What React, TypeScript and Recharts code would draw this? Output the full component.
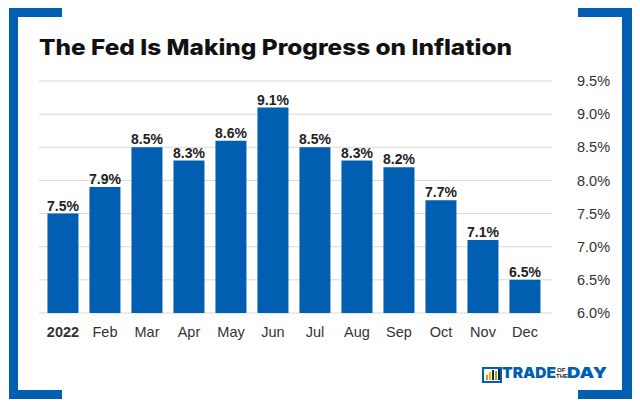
import React from "react";
import { BarChart, Bar, XAxis, YAxis, CartesianGrid, LabelList } from "recharts";

const months = ["2022", "Feb", "Mar", "Apr", "May", "Jun", "Jul", "Aug", "Sep", "Oct", "Nov", "Dec"];
const inflation = [7.5, 7.9, 8.5, 8.3, 8.6, 9.1, 8.5, 8.3, 8.2, 7.7, 7.1, 6.5];
const yTicks = [6.0, 6.5, 7.0, 7.5, 8.0, 8.5, 9.0, 9.5];

const BLUE = "#005fb0";
const FONT = "'Liberation Sans', Arial, Helvetica, sans-serif";

const data = months.map((m, i) => ({ month: m, value: inflation[i] }));

const MonthTick = (props: any) => {
  const { x, y, payload } = props;
  const bold = payload.index === 0;
  return (
    <text
      x={x}
      y={y + 11}
      textAnchor="middle"
      fontFamily={FONT}
      fontSize={14.5}
      fontWeight={bold ? 700 : 400}
      fill="#333"
    >
      {payload.value}
    </text>
  );
};

const Frame = () => (
  <svg width={640} height={407} style={{ position: "absolute", left: 0, top: 0, pointerEvents: "none" }}>
    {/* left bracket */}
    <rect x={9} y={8} width={9} height={391} fill={BLUE} />
    <rect x={9} y={8} width={53} height={9} fill={BLUE} />
    <rect x={9} y={390} width={53} height={9} fill={BLUE} />
    {/* right bracket */}
    <rect x={622} y={8} width={10} height={391} fill={BLUE} />
    <rect x={578} y={8} width={54} height={9} fill={BLUE} />
    <rect x={578} y={390} width={54} height={9} fill={BLUE} />
    {/* title */}
    <text
      x={39}
      y={55}
      fontFamily="Inter, 'Open Sans', sans-serif"
      fontWeight={800}
      fontSize={22}
      fill="#111"
      textLength={473}
      lengthAdjust="spacingAndGlyphs"
    >
      The Fed Is Making Progress on Inflation
    </text>
    {/* logo */}
    <g>
      <rect x={483} y={368} width={18} height={14} fill="none" stroke={BLUE} strokeWidth={2} />
      <rect x={486} y={375} width={2} height={5} fill="#f08a24" />
      <rect x={489} y={372} width={2} height={8} fill="#f5b400" />
      <rect x={492} y={370} width={2} height={10} fill="#222" />
      <rect x={495} y={371} width={2} height={9} fill="#6cc04a" />
      <rect x={498} y={369} width={2} height={11} fill="#222" />
      <text x={502} y={378} fontFamily="Inter, sans-serif" fontWeight={900} fontSize={15} fill={BLUE} textLength={54} lengthAdjust="spacingAndGlyphs">
        TRADE
      </text>
      <text x={557} y={372} fontFamily={FONT} fontWeight={700} fontSize={6} fill="#222">
        OF
      </text>
      <text x={556} y={378} fontFamily={FONT} fontWeight={700} fontSize={6} fill="#222">
        THE
      </text>
      <text x={567} y={378} fontFamily="Inter, sans-serif" fontWeight={900} fontSize={15} fill={BLUE} textLength={40} lengthAdjust="spacingAndGlyphs">
        DAY
      </text>
    </g>
  </svg>
);

export default function App() {
  return (
    <div style={{ position: "absolute", left: 0, top: 0, width: 640, height: 407, background: "#fff" }}>
      <BarChart
        width={640}
        height={407}
        data={data}
        margin={{ top: 81, right: 0, bottom: 0, left: 39 }}
        barCategoryGap="13%"
      >
        <CartesianGrid vertical={false} stroke="#d9d9d9" strokeWidth={1} />
        <XAxis
          dataKey="month"
          height={94}
          axisLine={false}
          tickLine={false}
          tickSize={0}
          tickMargin={13}
          interval={0}
          padding={{ left: 3, right: 6 }}
          tick={<MonthTick />}
        />
        <YAxis
          orientation="right"
          width={88}
          domain={[6, 9.5]}
          ticks={yTicks}
          allowDataOverflow
          axisLine={false}
          tickLine={false}
          tickSize={0}
          tickMargin={25}
          tickFormatter={(v: number) => `${v.toFixed(1)}%`}
          tick={{ fontFamily: FONT, fontSize: 14.5, fill: "#333", textAnchor: "start" }}
        />
        <Bar dataKey="value" fill={BLUE} isAnimationActive={false}>
          <LabelList
            dataKey="value"
            position="top"
            offset={3}
            formatter={(v: number) => `${v.toFixed(1)}%`}
            style={{ fontFamily: FONT, fontSize: 14, fontWeight: 700, fill: "#222" }}
          />
        </Bar>
      </BarChart>
      <Frame />
    </div>
  );
}
